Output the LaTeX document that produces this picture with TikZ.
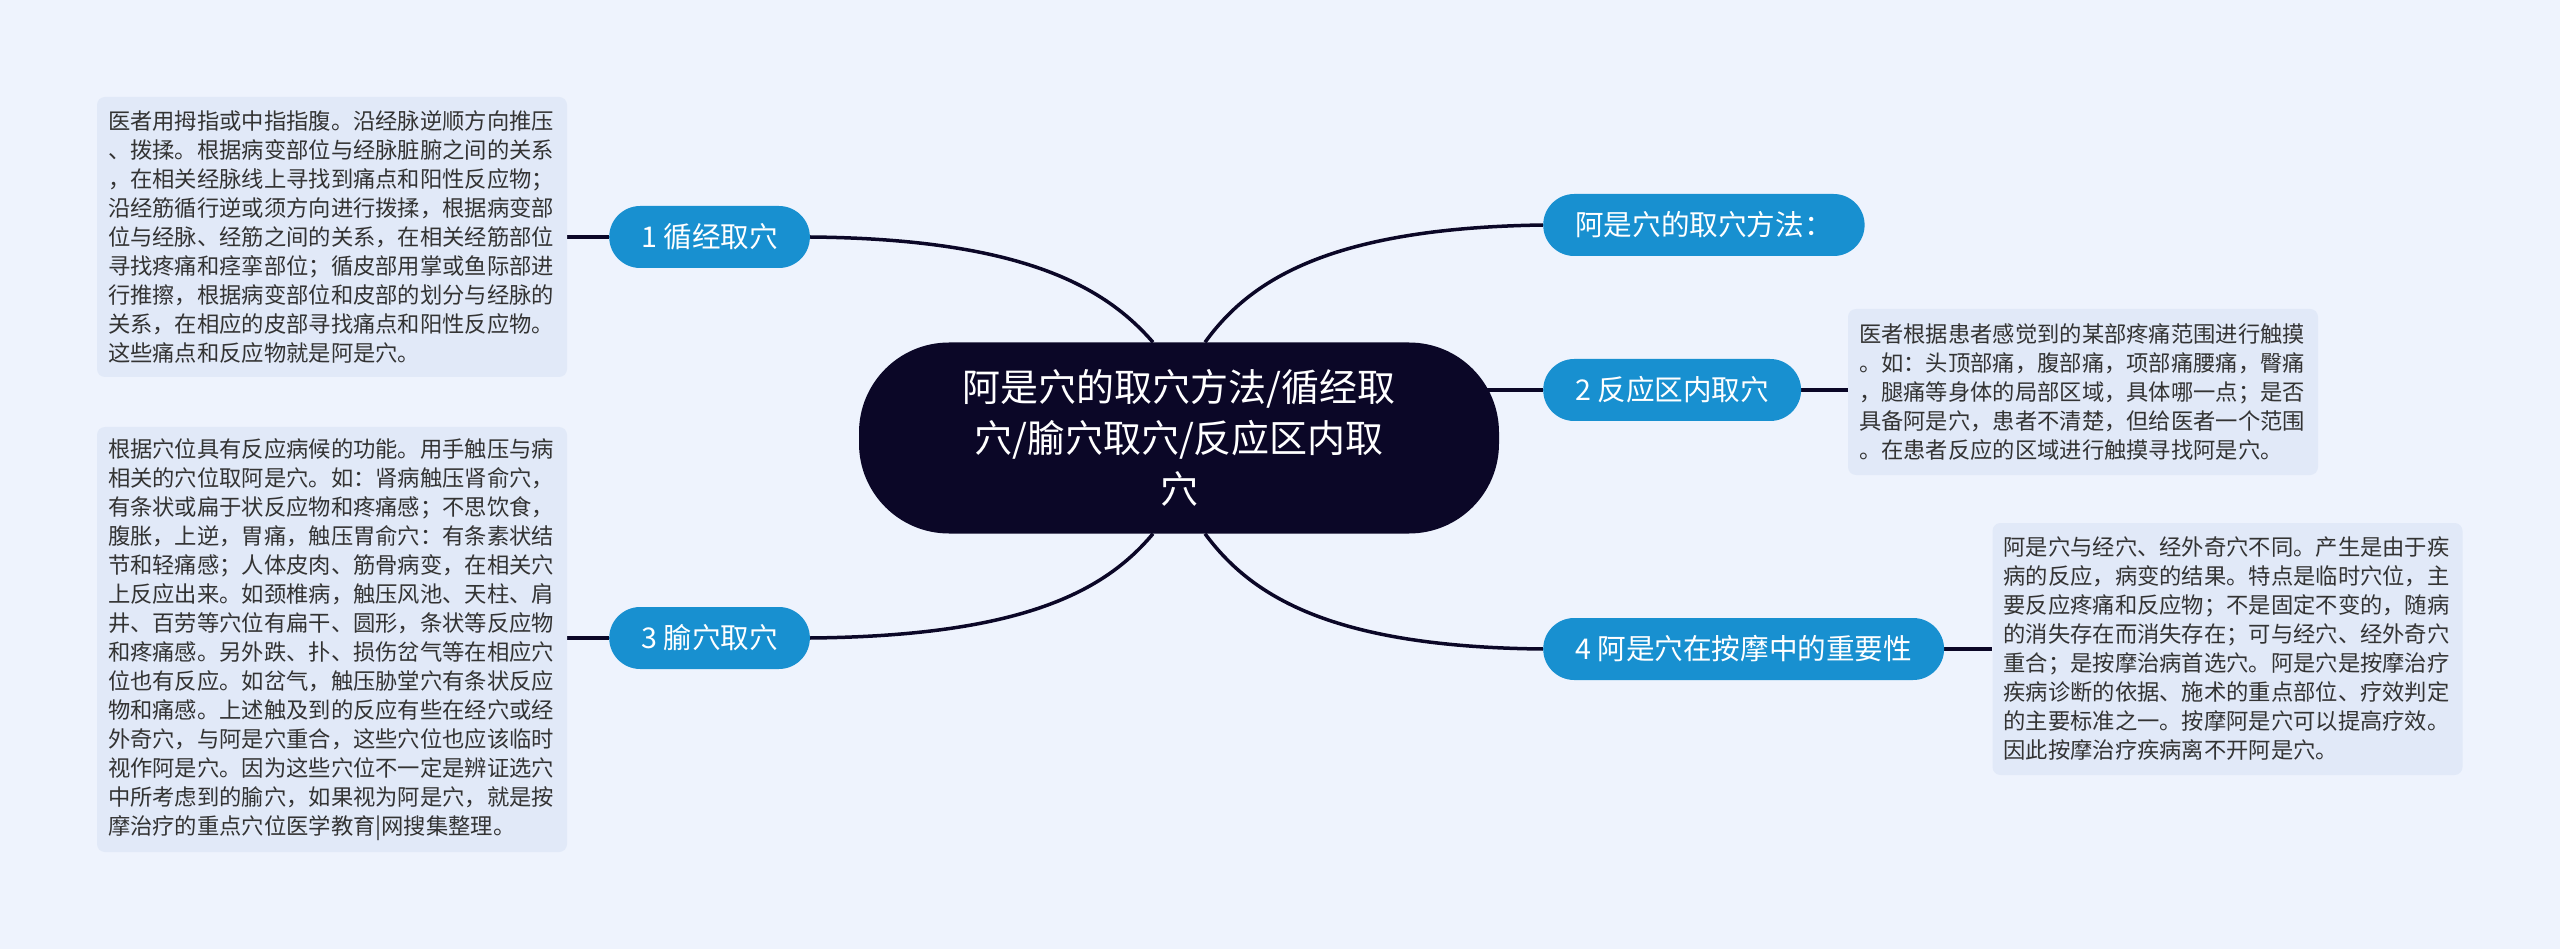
\documentclass[tikz,border=0pt]{standalone}
\usepackage{fontspec}
\setmainfont{Noto Sans CJK SC}
\definecolor{bgc}{HTML}{EEF3FD}
\definecolor{boxc}{HTML}{E1E9F8}
\definecolor{branchc}{HTML}{1890D0}
\definecolor{centc}{HTML}{0B0727}
\definecolor{linec}{HTML}{0B0727}
\definecolor{textc}{HTML}{333333}
\pgfdeclarelayer{bg}
\pgfsetlayers{bg,main}
\begin{document}
\begin{tikzpicture}[x=1pt,y=-1pt,
  conn/.style={draw=linec, line width=3.5pt},
  branch/.style={fill=branchc, text=white, rounded corners=31pt, minimum height=62pt, inner xsep=32pt, inner ysep=0pt, font=\fontsize{28.6}{34}\selectfont},
  tbox/.style={fill=boxc, rounded corners=8pt, text=textc, align=left, inner xsep=11pt, inner ysep=0pt, font=\fontsize{22.3}{29}\selectfont, minimum width=470pt, text width=448pt},
  central/.style={fill=centc, text=white, rounded corners=90pt, minimum width=640pt, minimum height=191pt, align=center, font=\fontsize{38}{51}\selectfont}]
\useasboundingbox (0,0) rectangle (2560,949);

\node[central] (c) at (1179,438) {阿是穴的取穴方法/循经取\\穴/腧穴取穴/反应区内取\\穴};

\node[branch, anchor=west] (b1) at (609,237) {1 循经取穴};
\node[branch, anchor=west] (b3) at (609,638) {3 腧穴取穴};
\node[branch, anchor=west] (b0) at (1543,225) {阿是穴的取穴方法：};
\node[branch, anchor=west] (b2) at (1543,390) {2 反应区内取穴};
\node[branch, anchor=west] (b4) at (1543,649) {4 阿是穴在按摩中的重要性};

\node[tbox, minimum height=280pt] (t1) at (332,237) {医者用拇指或中指指腹。沿经脉逆顺方向推压\\、拨揉。根据病变部位与经脉脏腑之间的关系\\，在相关经脉线上寻找到痛点和阳性反应物；\\沿经筋循行逆或须方向进行拨揉，根据病变部\\位与经脉、经筋之间的关系，在相关经筋部位\\寻找疼痛和痉挛部位；循皮部用掌或鱼际部进\\行推擦，根据病变部位和皮部的划分与经脉的\\关系，在相应的皮部寻找痛点和阳性反应物。\\这些痛点和反应物就是阿是穴。};

\node[tbox, minimum height=425pt] (t3) at (332,639.5) {根据穴位具有反应病候的功能。用手触压与病\\相关的穴位取阿是穴。如：肾病触压肾俞穴，\\有条状或扁于状反应物和疼痛感；不思饮食，\\腹胀，上逆，胃痛，触压胃俞穴：有条素状结\\节和轻痛感；人体皮肉、筋骨病变，在相关穴\\上反应出来。如颈椎病，触压风池、天柱、肩\\井、百劳等穴位有扁干、圆形，条状等反应物\\和疼痛感。另外跌、扑、损伤岔气等在相应穴\\位也有反应。如岔气，触压胁堂穴有条状反应\\物和痛感。上述触及到的反应有些在经穴或经\\外奇穴，与阿是穴重合，这些穴位也应该临时\\视作阿是穴。因为这些穴位不一定是辨证选穴\\中所考虑到的腧穴，如果视为阿是穴，就是按\\摩治疗的重点穴位医学教育|网搜集整理。};

\node[tbox, minimum height=166pt] (t2) at (2083,392) {医者根据患者感觉到的某部疼痛范围进行触摸\\。如：头顶部痛，腹部痛，项部痛腰痛，臀痛\\，腿痛等身体的局部区域，具体哪一点；是否\\具备阿是穴，患者不清楚，但给医者一个范围\\。在患者反应的区域进行触摸寻找阿是穴。};

\node[tbox, minimum height=252pt] (t4) at (2227.5,649) {阿是穴与经穴、经外奇穴不同。产生是由于疾\\病的反应，病变的结果。特点是临时穴位，主\\要反应疼痛和反应物；不是固定不变的，随病\\的消失存在而消失存在；可与经穴、经外奇穴\\重合；是按摩治病首选穴。阿是穴是按摩治疗\\疾病诊断的依据、施术的重点部位、疗效判定\\的主要标准之一。按摩阿是穴可以提高疗效。\\因此按摩治疗疾病离不开阿是穴。};

\begin{pgfonlayer}{bg}
\fill[bgc] (0,0) rectangle (2560,949);
\draw[conn] ([xshift=-26pt]c.north) .. controls (1105,287) and (1023,239) .. (b1.east);
\draw[conn] ([xshift=26pt]c.north) .. controls (1250,280) and (1330,228) .. (b0.west);
\draw[conn] ([xshift=-26pt]c.south) .. controls (1105,591) and (1023,636) .. (b3.east);
\draw[conn] ([xshift=26pt]c.south) .. controls (1251,596) and (1331,647) .. (b4.west);
\draw[conn] (c.center |- b2.west) -- (b2.west);
\draw[conn] (b1.west) -- (t1.east);
\draw[conn] (b3.west) -- (b3.west -| t3.east);
\draw[conn] (b2.east) -- (b2.east -| t2.west);
\draw[conn] (b4.east) -- (b4.east -| t4.west);
\end{pgfonlayer}
\end{tikzpicture}
\end{document}
